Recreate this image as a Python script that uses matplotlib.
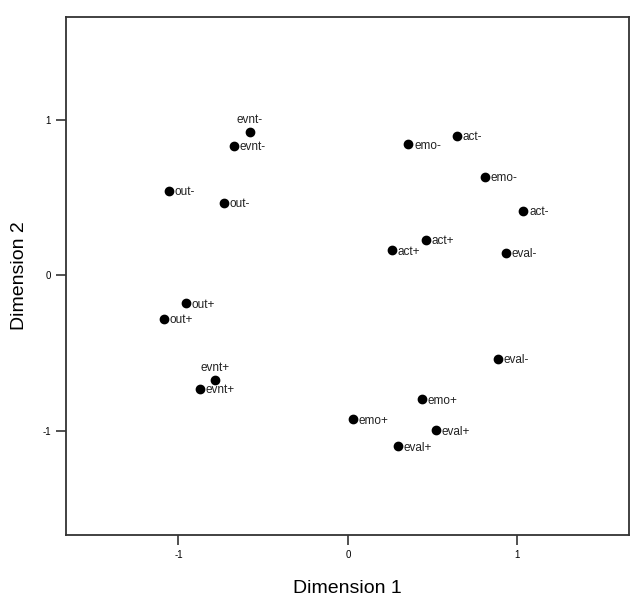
import matplotlib.pyplot as plt

# point labels and coordinates
labels = ["evnt-", "evnt-", "out-", "out-", "out+", "out+", "evnt+", "evnt+",
          "emo-", "act-", "emo-", "act-", "act+", "act+", "eval-",
          "eval-", "emo+", "emo+", "eval+", "eval+"]
dim1 = [-0.578, -0.670, -1.056, -0.730, -0.958, -1.084, -0.785, -0.873,
        0.358, 0.643, 0.812, 1.037, 0.460, 0.258, 0.936,
        0.887, 0.435, 0.033, 0.523, 0.297]
dim2 = [0.920, 0.830, 0.542, 0.467, -0.180, -0.278, -0.671, -0.729,
        0.842, 0.894, 0.632, 0.414, 0.229, 0.161, 0.144,
        -0.538, -0.797, -0.926, -0.997, -1.098]
# labels drawn above their point instead of to the right
above = [0, 6]

plt.rcParams['font.family'] = ['Liberation Sans', 'DejaVu Sans']
plt.rcParams['axes.unicode_minus'] = False

fig = plt.figure(figsize=(6.35, 6.02), dpi=100)
ax = fig.add_axes([0.104, 0.111, 0.886, 0.861])

ax.plot(dim1, dim2, 'o', color='black', markersize=6, linestyle='none')

for i, (lab, x, y) in enumerate(zip(labels, dim1, dim2)):
    if i in above:
        ax.annotate(lab, (x, y), xytext=(0, 4), textcoords='offset points',
                    ha='center', va='bottom', fontsize=8.5, color='#222222')
    else:
        ax.annotate(lab, (x, y), xytext=(4, -1), textcoords='offset points',
                    ha='left', va='center', fontsize=8.5, color='#222222')

ax.set_xlim(-1.664, 1.658)
ax.set_ylim(-1.67, 1.66)
ax.set_xticks([-1, 0, 1])
ax.set_yticks([-1, 0, 1])
ax.tick_params(direction='out', length=7, width=1.2, labelsize=7,
               color='#333333', pad=4)
for sp in ax.spines.values():
    sp.set_linewidth(1.3)
    sp.set_color('#333333')

ax.set_xlabel("Dimension 1", fontsize=14, labelpad=14)
ax.set_ylabel("Dimension 2", fontsize=14, labelpad=10)

fig.savefig("out.png", dpi=100)
